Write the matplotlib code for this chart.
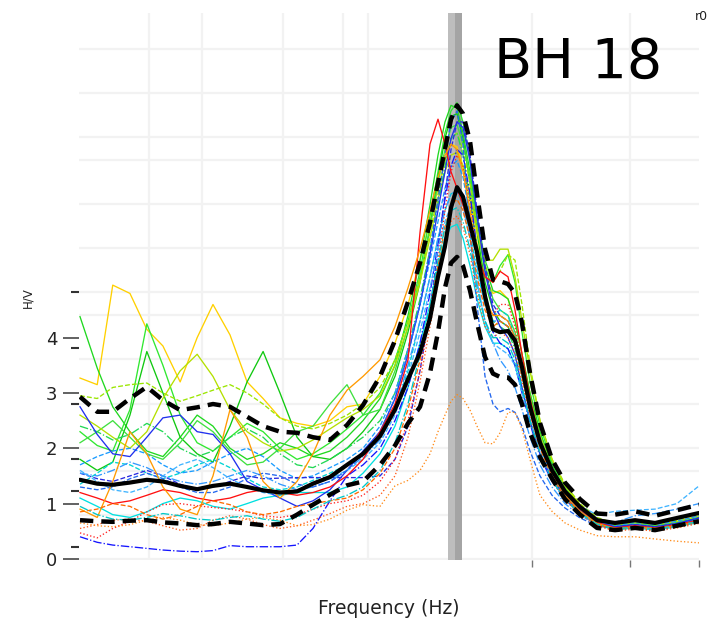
import matplotlib
matplotlib.use("Agg")
import matplotlib.pyplot as plt

# ---------------------------------------------------------------- data
freq = [0.2015, 0.229, 0.257, 0.292, 0.331, 0.373, 0.424, 0.481, 0.541, 0.614,
        0.697, 0.785, 0.890, 1.010, 1.137, 1.290, 1.464, 1.649, 1.871, 2.091,
        2.303, 2.518, 2.712, 2.878, 3.031, 3.170, 3.315, 3.465, 3.651, 3.846,
        4.081, 4.330, 4.562, 4.841, 5.099, 5.371, 5.700, 6.139, 6.713, 7.392,
        8.264, 9.376, 10.72, 12.43, 14.43, 16.98, 20.0]

# individual time-window H/V curves
win_yellow = [3.27, 3.15, 4.95, 4.8, 4.15, 3.85, 3.2, 4.0, 4.6, 4.05, 3.2, 2.9, 2.55, 2.45, 2.4, 2.5, 2.75, 2.8,
              3.3, 3.9, 4.6, 5.4, 6.1, 6.7, 7.2, 7.5, 7.45, 7.1, 6.5, 5.7, 5.1, 4.8, 4.85, 4.7, 4.3, 3.7, 3.0, 2.25, 1.65, 1.25, 0.92, 0.7, 0.62, 0.66, 0.6, 0.66, 0.76]
win_green1 = [4.38, 3.45, 2.75, 2.3, 1.95, 1.85, 2.2, 2.6, 2.4, 2.0, 1.8, 1.9, 2.1, 2.0, 1.85, 1.95, 2.2, 2.5,
              2.9, 3.5, 4.4, 5.4, 6.4, 7.3, 7.9, 8.2, 8.15, 7.7, 7.0, 6.1, 5.3, 4.85, 4.8, 4.7, 4.3, 3.7, 3.0, 2.3, 1.7, 1.25, 0.92, 0.68, 0.58, 0.62, 0.58, 0.64, 0.72]
win_green2 = [2.3, 2.05, 1.95, 2.7, 4.25, 3.5, 2.6, 2.1, 1.95, 2.2, 2.45, 2.3, 2.0, 1.8, 1.9, 2.1, 2.35, 2.6,
              3.0, 3.6, 4.3, 5.2, 6.2, 7.0, 7.7, 8.1, 8.25, 7.9, 7.2, 6.2, 5.4, 5.0, 5.3, 5.5, 5.0, 4.1, 3.2, 2.4, 1.75, 1.3, 0.95, 0.7, 0.6, 0.65, 0.6, 0.66, 0.75]
win_green3 = [1.8, 1.6, 1.75, 2.6, 3.75, 3.0, 2.2, 1.9, 1.75, 2.4, 3.2, 3.75, 3.0, 2.2, 1.85, 1.8, 2.0, 2.3,
              2.7, 3.3, 4.1, 5.0, 6.0, 6.9, 7.6, 8.0, 8.05, 7.6, 6.8, 5.9, 5.0, 4.5, 4.3, 4.2, 3.9, 3.4, 2.8, 2.15, 1.6, 1.2, 0.9, 0.66, 0.56, 0.6, 0.56, 0.62, 0.7]
win_green4 = [2.1, 2.3, 2.5, 2.2, 1.9, 1.8, 2.1, 2.5, 2.3, 1.95, 1.7, 1.75, 2.0, 2.3, 2.4, 2.8, 3.15, 2.6,
              2.7, 3.4, 4.2, 5.1, 6.0, 6.8, 7.4, 7.8, 7.85, 7.5, 6.9, 6.0, 5.2, 4.7, 4.5, 4.4, 4.1, 3.5, 2.9, 2.2, 1.62, 1.22, 0.9, 0.68, 0.58, 0.62, 0.58, 0.64, 0.72]
win_lime = [2.95, 2.9, 3.1, 3.15, 3.18, 3.0, 2.85, 2.95, 3.05, 3.15, 3.0, 2.8, 2.55, 2.4, 2.35, 2.45, 2.6, 2.8,
            3.1, 3.6, 4.3, 5.1, 5.9, 6.6, 7.2, 7.6, 7.7, 7.4, 6.8, 6.0, 5.3, 5.0, 5.2, 5.5, 5.4, 4.6, 3.5, 2.5, 1.8, 1.35, 1.0, 0.75, 0.64, 0.68, 0.64, 0.7, 0.82]
win_yellowgreen = [2.6, 2.4, 2.2, 2.0, 2.3, 2.9, 3.4, 3.7, 3.3, 2.7, 2.3, 2.1, 1.95, 2.0, 2.15, 2.35, 2.55, 2.7,
                   2.95, 3.5, 4.2, 5.0, 5.8, 6.5, 7.0, 7.3, 7.35, 7.1, 6.6, 5.9, 5.4, 5.4, 5.6, 5.6, 5.1, 4.3, 3.4, 2.5, 1.8, 1.32, 0.98, 0.72, 0.62, 0.66, 0.62, 0.68, 0.78]
win_green_dd = [2.4, 2.3, 2.15, 2.25, 2.45, 2.3, 2.0, 1.85, 1.95, 2.2, 2.35, 2.2, 1.9, 1.7, 1.65, 1.8, 2.0, 2.2,
                2.5, 3.0, 3.8, 4.7, 5.6, 6.4, 7.1, 7.6, 7.7, 7.3, 6.5, 5.6, 4.8, 4.3, 4.2, 4.1, 3.8, 3.3, 2.7, 2.05, 1.5, 1.15, 0.86, 0.64, 0.54, 0.58, 0.55, 0.6, 0.68]
win_cyan_dash = [1.35, 1.55, 1.75, 1.7, 1.55, 1.45, 1.55, 1.7, 1.8, 1.65, 1.45, 1.3, 1.25, 1.3, 1.42, 1.55, 1.7, 1.9,
                 2.2, 2.7, 3.4, 4.3, 5.1, 5.8, 6.3, 6.6, 6.65, 6.4, 5.9, 5.2, 4.6, 4.4, 4.5, 4.4, 4.0, 3.4, 2.75, 2.05, 1.52, 1.16, 0.87, 0.66, 0.56, 0.62, 0.58, 0.64, 0.74]
win_cyan = [1.1, 0.95, 0.8, 0.75, 0.85, 1.0, 1.1, 1.05, 0.95, 0.9, 1.0, 1.1, 1.15, 1.2, 1.2, 1.2, 1.3, 1.55,
            1.9, 2.4, 3.1, 3.9, 4.6, 5.3, 5.8, 6.0, 6.05, 5.8, 5.3, 4.7, 4.2, 3.9, 3.9, 3.8, 3.5, 3.05, 2.5, 1.9, 1.42, 1.08, 0.82, 0.62, 0.52, 0.56, 0.52, 0.58, 0.66]
win_skyblue = [1.7, 1.85, 1.95, 2.0, 1.9, 1.7, 1.55, 1.6, 1.75, 1.9, 2.0, 1.85, 1.6, 1.45, 1.5, 1.65, 1.8, 2.0,
               2.4, 3.0, 3.8, 4.6, 5.4, 6.1, 6.7, 7.1, 7.2, 6.9, 6.2, 5.3, 4.6, 4.3, 4.3, 4.2, 3.9, 3.3, 2.7, 2.05, 1.5, 1.16, 0.88, 0.68, 0.6, 0.66, 0.62, 0.68, 0.78]
win_blue = [2.75, 2.25, 1.9, 1.85, 2.2, 2.55, 2.6, 2.3, 2.25, 1.9, 1.4, 1.25, 1.1, 0.95, 1.05, 1.25, 1.6, 1.95,
            2.3, 2.9, 3.7, 4.6, 5.5, 6.3, 7.0, 7.6, 7.9, 7.8, 7.2, 6.2, 5.2, 4.5, 4.2, 4.0, 3.7, 3.1, 2.5, 1.9, 1.45, 1.12, 0.86, 0.66, 0.58, 0.62, 0.58, 0.64, 0.74]
win_blue_low = [0.4, 0.3, 0.25, 0.22, 0.19, 0.16, 0.14, 0.13, 0.15, 0.24, 0.22, 0.22, 0.22, 0.25, 0.55, 1.05, 1.5, 1.7,
                2.0, 2.5, 3.1, 3.9, 4.8, 5.7, 6.5, 7.1, 7.4, 7.3, 6.6, 5.6, 4.7, 4.1, 3.9, 3.8, 3.5, 3.0, 2.45, 1.85, 1.4, 1.08, 0.82, 0.62, 0.55, 0.6, 0.55, 0.62, 0.7]
win_blue_flat = [1.55, 1.45, 1.4, 1.5, 1.6, 1.5, 1.35, 1.25, 1.3, 1.4, 1.5, 1.45, 1.46, 1.47, 1.47, 1.47, 1.47, 1.47,
                 1.5, 1.8, 2.4, 3.4, 4.5, 5.6, 6.6, 7.4, 7.9, 7.9, 7.3, 6.3, 5.3, 4.6, 4.4, 4.3, 4.0, 3.4, 2.7, 2.05, 1.5, 1.15, 0.88, 0.66, 0.58, 0.62, 0.58, 0.64, 0.74]
win_dodger = [1.55, 1.5, 1.6, 1.75, 1.65, 1.5, 1.4, 1.35, 1.4, 1.5, 1.6, 1.5, 1.35, 1.25, 1.3, 1.4, 1.6, 1.85,
              2.15, 2.7, 3.5, 4.3, 5.1, 5.8, 6.3, 6.6, 6.65, 6.4, 5.8, 5.0, 4.3, 3.9, 3.6, 3.4, 3.1, 2.7, 2.2, 1.7, 1.3, 1.0, 0.78, 0.64, 0.66, 0.78, 0.82, 0.9, 1.0]
win_lightblue = [1.6, 1.4, 1.25, 1.2, 1.3, 1.5, 1.7, 1.8, 1.65, 1.45, 1.3, 1.2, 1.15, 1.25, 1.35, 1.45, 1.6, 1.8,
                 2.1, 2.6, 3.3, 4.1, 4.9, 5.6, 6.1, 6.4, 6.5, 6.3, 5.8, 5.0, 4.3, 3.9, 3.8, 3.7, 3.5, 3.0, 2.5, 1.95, 1.5, 1.18, 0.95, 0.8, 0.86, 0.88, 0.9, 1.0, 1.32]
win_blue_shoulder = [1.3, 1.25, 1.3, 1.45, 1.55, 1.45, 1.3, 1.2, 1.2, 1.3, 1.45, 1.55, 1.5, 1.35, 1.3, 1.4, 1.6, 1.9,
                     2.3, 2.9, 3.7, 4.6, 5.6, 6.5, 7.3, 7.9, 8.1, 7.5, 5.9, 4.6, 3.3, 2.8, 2.66, 2.72, 2.65, 2.4, 1.95, 1.5, 1.15, 0.92, 0.74, 0.6, 0.55, 0.6, 0.56, 0.62, 0.7]
win_red_dot = [0.47, 0.38, 0.55, 0.68, 0.85, 0.98, 1.0, 0.96, 0.93, 0.9, 0.85, 0.78, 0.75, 0.8, 0.9, 1.0, 1.05, 1.15,
               1.4, 1.8, 2.5, 3.4, 4.4, 5.4, 6.3, 7.0, 7.3, 7.1, 6.4, 5.5, 4.7, 4.4, 4.6, 4.6, 4.2, 3.5, 2.8, 2.1, 1.55, 1.15, 0.85, 0.62, 0.52, 0.56, 0.52, 0.58, 0.66]
win_red = [1.2, 1.1, 1.0, 1.05, 1.15, 1.25, 1.2, 1.1, 1.05, 1.1, 1.2, 1.25, 1.2, 1.15, 1.2, 1.3, 1.5, 1.8,
           2.3, 2.8, 3.6, 5.9, 7.5, 7.95, 7.5, 7.0, 6.7, 6.4, 6.0, 5.5, 5.1, 5.0, 5.2, 5.1, 4.5, 3.7, 2.9, 2.15, 1.6, 1.2, 0.9, 0.66, 0.56, 0.6, 0.56, 0.62, 0.7]
win_orangered_dot = [0.55, 0.62, 0.7, 0.72, 0.68, 0.6, 0.52, 0.55, 0.7, 0.78, 0.72, 0.62, 0.55, 0.6, 0.7, 0.82, 0.95, 1.0,
                     1.15, 1.5, 2.2, 3.2, 4.2, 5.0, 5.7, 6.1, 6.2, 6.0, 5.5, 4.8, 4.2, 4.0, 4.1, 4.0, 3.7, 3.2, 2.55, 1.9, 1.42, 1.06, 0.8, 0.6, 0.5, 0.54, 0.5, 0.56, 0.64]
win_orange_low = [0.65, 0.6, 0.58, 0.62, 0.7, 0.75, 0.7, 0.62, 0.6, 0.65, 0.72, 0.75, 0.7, 0.6, 0.62, 0.72, 0.88, 0.98,
                  0.95, 1.32, 1.42, 1.6, 1.9, 2.3, 2.6, 2.85, 2.97, 2.9, 2.69, 2.4, 2.1, 2.08, 2.28, 2.65, 2.65, 2.35, 1.8, 1.15, 0.86, 0.65, 0.52, 0.42, 0.4, 0.4, 0.36, 0.32, 0.29]
win_orange = [0.9, 0.75, 1.4, 2.3, 1.9, 1.3, 0.9, 0.8, 1.5, 2.7, 2.2, 1.4, 1.1, 1.4, 1.9, 2.6, 3.05, 3.3,
              3.6, 4.2, 4.9, 5.6, 6.3, 6.9, 7.3, 7.5, 7.4, 7.0, 6.3, 5.4, 4.7, 4.4, 4.4, 4.3, 4.0, 3.4, 2.8, 2.1, 1.55, 1.15, 0.86, 0.64, 0.55, 0.58, 0.55, 0.6, 0.68]
win_orange_dash = [0.85, 0.9, 1.0, 0.95, 0.8, 0.72, 0.8, 0.95, 1.05, 0.98, 0.85, 0.8, 0.85, 0.95, 1.0, 1.05, 1.1, 1.25,
                   1.55, 2.0, 2.7, 3.6, 4.5, 5.3, 6.0, 6.4, 6.5, 6.3, 5.8, 5.1, 4.5, 4.2, 4.3, 4.2, 3.9, 3.3, 2.65, 2.0, 1.48, 1.1, 0.84, 0.62, 0.54, 0.58, 0.54, 0.6, 0.68]
win_cyan_dd = [0.95, 0.8, 0.72, 0.7, 0.75, 0.82, 0.78, 0.72, 0.7, 0.75, 0.78, 0.72, 0.68, 0.75, 0.9, 1.05, 1.15, 1.3,
               1.6, 2.1, 2.8, 3.7, 4.6, 5.4, 6.0, 6.3, 6.35, 6.1, 5.6, 4.9, 4.3, 4.0, 4.0, 3.9, 3.6, 3.1, 2.5, 1.9, 1.42, 1.08, 0.82, 0.63, 0.54, 0.58, 0.54, 0.6, 0.68]

# average curve and its +/- one standard deviation envelope
hv_mean = [1.43, 1.36, 1.34, 1.38, 1.43, 1.40, 1.32, 1.26, 1.32, 1.36, 1.30, 1.24, 1.20, 1.22, 1.36, 1.48, 1.70, 1.90,
           2.22, 2.70, 3.25, 3.73, 4.35, 5.10, 5.65, 6.35, 6.72, 6.55, 6.05, 5.55, 4.75, 4.15, 4.10, 4.12, 3.95, 3.47, 2.75, 2.10, 1.60, 1.22, 0.94, 0.70, 0.65, 0.70, 0.65, 0.74, 0.83]
hv_upper = [2.93, 2.66, 2.66, 2.90, 3.11, 2.87, 2.69, 2.74, 2.80, 2.75, 2.57, 2.40, 2.30, 2.28, 2.20, 2.15, 2.42, 2.78,
            3.30, 3.95, 4.65, 5.35, 6.08, 6.80, 7.40, 7.95, 8.20, 8.05, 7.55, 6.60, 5.60, 5.05, 5.02, 4.97, 4.80, 4.27, 3.36, 2.46, 1.80, 1.38, 1.08, 0.82, 0.80, 0.86, 0.78, 0.88, 0.98]
hv_lower = [0.70, 0.68, 0.67, 0.69, 0.70, 0.66, 0.64, 0.61, 0.63, 0.67, 0.64, 0.61, 0.63, 0.80, 0.98, 1.16, 1.33, 1.40,
            1.70, 2.05, 2.45, 2.75, 3.36, 4.10, 4.90, 5.35, 5.46, 5.30, 4.85, 4.27, 3.65, 3.35, 3.29, 3.28, 3.15, 2.80, 2.28, 1.84, 1.45, 1.08, 0.80, 0.56, 0.52, 0.56, 0.52, 0.60, 0.68]

# peak frequency and its standard-deviation range
f0_low, f0, f0_high = 3.10, 3.27, 3.44

y_ticks = [0, 1, 2, 3, 4]
y_minor = [0.22, 1.23, 1.81, 2.80, 3.82, 4.83]
x_ticks = [5.78, 12.0, 20.0]
x_grid = [0.336, 0.499, 0.91, 1.42, 1.71, 5.78, 12.0]
y_grid = [0.0, 0.80, 1.59, 2.01, 2.80, 3.62, 4.41, 4.83, 5.62, 6.42, 7.22, 7.63, 8.43, 9.22]

windows = [
    (win_yellow, "#ffd000", "-"),
    (win_green1, "#20d820", "-"),
    (win_green2, "#30e830", "-"),
    (win_green3, "#10c810", "-"),
    (win_green4, "#40e040", "-"),
    (win_lime, "#9be600", "--"),
    (win_yellowgreen, "#b4e000", "-"),
    (win_green_dd, "#22d855", "-."),
    (win_cyan_dash, "#00d4d4", "--"),
    (win_cyan, "#00e0e0", "-"),
    (win_skyblue, "#1a9cff", "--"),
    (win_blue, "#2030ee", "-"),
    (win_blue_low, "#1414ff", "-."),
    (win_blue_flat, "#2a2ae0", "--"),
    (win_dodger, "#3399ff", "-."),
    (win_lightblue, "#40b4ff", "--"),
    (win_blue_shoulder, "#2266ee", "--"),
    (win_red_dot, "#ff2020", ":"),
    (win_red, "#ff1010", "-"),
    (win_orangered_dot, "#ff5a1a", ":"),
    (win_orange_low, "#ff8c1a", ":"),
    (win_orange, "#ff9a00", "-"),
    (win_orange_dash, "#ff6a00", "--"),
    (win_cyan_dd, "#00c8c8", "-."),
]

# ---------------------------------------------------------------- figure
W, H = 717, 629
fig = plt.figure(figsize=(W / 100, H / 100), dpi=100)
left, right, top, bottom = 79, 699, 13, 560
ax = fig.add_axes([left / W, 1 - bottom / H, (right - left) / W, (bottom - top) / H])

ax.set_xscale("log")
ax.set_xlim(0.2, 20.0)
ax.set_ylim(-0.02, 9.87)

for s in ax.spines.values():
    s.set_visible(False)

for g in x_grid:
    ax.axvline(g, color="#f2f2f2", lw=1.6, zorder=0)
for g in y_grid:
    ax.axhline(g, color="#f2f2f2", lw=1.6, zorder=0)

ax.axvspan(f0_low, f0, color="#bdbdbd", lw=0, zorder=0.5)
ax.axvspan(f0, f0_high, color="#a4a4a4", lw=0, zorder=0.5)

for vals, col, ls in windows:
    ax.plot(freq, vals, color=col, ls=ls, lw=0.95, zorder=2)

ax.plot(freq, hv_mean, color="black", lw=3.0, zorder=4, solid_capstyle="round")
ax.plot(freq, hv_upper, color="black", lw=3.2, dashes=(3.0, 1.8), zorder=4)
ax.plot(freq, hv_lower, color="black", lw=3.2, dashes=(3.0, 1.8), zorder=4)

ax.set_yticks(y_ticks)
ax.set_yticklabels([str(t) for t in y_ticks])
ax.set_yticks(y_minor, minor=True)
ax.tick_params(axis="y", which="major", length=11.5, width=1.3, color="#555555",
               pad=4, labelsize=13, labelcolor="#222222")
ax.tick_params(axis="y", which="minor", length=5.5, width=1.5, color="#333333")

ax.set_xticks(x_ticks)
ax.set_xticklabels([])
ax.xaxis.set_minor_locator(plt.NullLocator())
ax.tick_params(axis="x", which="major", length=5, width=1.0, color="#777777")

fig.text(389 / W, 1 - 608 / H, "Frequency (Hz)", ha="center", va="center",
         fontsize=13.5, color="#222222")
fig.text(28 / W, 1 - 298 / H, "H/V", ha="center", va="center", rotation=90,
         fontsize=8.5, color="#222222")
fig.text(578 / W, 1 - 63 / H, "BH 18", ha="center", va="center",
         fontsize=40, color="black")
fig.text(701 / W, 1 - 17 / H, "r0", ha="center", va="center",
         fontsize=9, color="#222222")

fig.savefig("out.png", dpi=100)
